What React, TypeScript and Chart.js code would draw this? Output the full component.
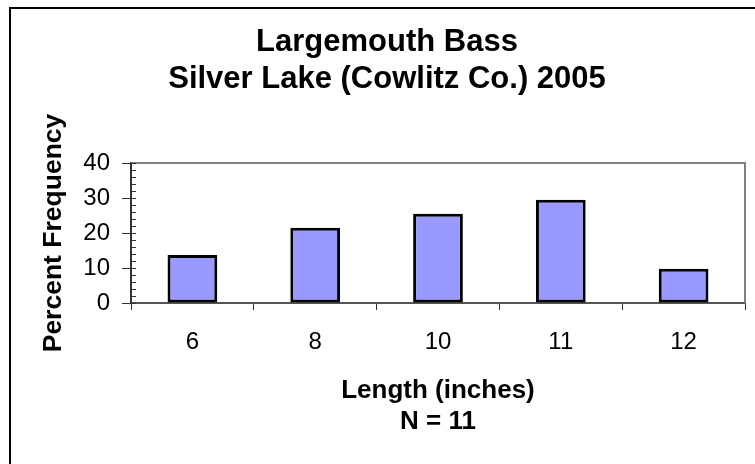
import React, { useEffect, useRef } from 'react';
import { Chart, registerables } from 'chart.js';

Chart.register(...registerables);

// ---- data ----
const categories = ['6', '8', '10', '11', '12'];
const percentFrequency = [13.7, 21.5, 25.5, 29.5, 9.8];
const yTickValues = [0, 10, 20, 30, 40];
const yMinorStep = 2;
const titleLines = ['Largemouth Bass', 'Silver Lake (Cowlitz Co.) 2005'];
const xTitleLines = ['Length (inches)', 'N = 11'];
const yTitleText = 'Percent Frequency';

const FONT = '"Liberation Sans", Arial, Helvetica, sans-serif';

const decorPlugin = {
  id: 'decor',
  beforeDraw(chart: any) {
    const ctx = chart.ctx;
    ctx.save();
    ctx.fillStyle = '#ffffff';
    ctx.fillRect(0, 0, chart.width, chart.height);
    ctx.strokeStyle = '#000000';
    ctx.lineWidth = 2;
    ctx.strokeRect(10, 8, chart.width + 50, chart.height + 50);
    ctx.restore();
  },
  afterDraw(chart: any) {
    const ctx = chart.ctx;
    const a = chart.chartArea;
    const y = chart.scales.y;
    ctx.save();
    // top and right plot border
    ctx.strokeStyle = '#808080';
    ctx.lineWidth = 2;
    ctx.beginPath();
    ctx.moveTo(a.left, a.top);
    ctx.lineTo(a.right, a.top);
    ctx.lineTo(a.right, a.bottom);
    ctx.stroke();
    // minor ticks on the y axis (inside)
    ctx.strokeStyle = '#333333';
    ctx.lineWidth = 1;
    ctx.beginPath();
    for (let v = y.min; v <= y.max + 1e-9; v += yMinorStep) {
      const py = Math.round(y.getPixelForValue(v)) + 0.5;
      ctx.moveTo(a.left, py);
      ctx.lineTo(a.left + 5, py);
    }
    ctx.stroke();
    ctx.restore();
  },
};

export default function App() {
  const ref = useRef<HTMLCanvasElement | null>(null);

  useEffect(() => {
    if (!ref.current) return;
    const chart = new Chart(ref.current, {
      type: 'bar',
      data: {
        labels: categories,
        datasets: [
          {
            data: percentFrequency,
            backgroundColor: '#9999FF',
            borderColor: '#000000',
            borderWidth: 3,
            borderSkipped: false,
            barPercentage: 0.405,
            categoryPercentage: 1,
          },
        ],
      },
      options: {
        responsive: false,
        animation: false,
        layout: { padding: { left: 29, right: 10, top: 0, bottom: 27 } },
        plugins: {
          legend: { display: false },
          tooltip: { enabled: false },
          title: {
            display: true,
            text: titleLines,
            color: '#000000',
            font: { family: FONT, size: 31, weight: 'bold', lineHeight: 1.2 },
            padding: { top: 24, bottom: 64.6 },
          },
        },
        scales: {
          x: {
            type: 'category',
            offset: true,
            grid: {
              display: true,
              drawOnChartArea: false,
              drawTicks: true,
              tickLength: 7,
              color: '#333333',
              lineWidth: 1,
              offset: true,
            },
            border: { display: true, color: '#555555', width: 2 },
            ticks: {
              color: '#000000',
              font: { family: FONT, size: 24 },
              padding: 18,
              maxRotation: 0,
            },
            title: {
              display: true,
              text: xTitleLines,
              color: '#000000',
              font: { family: FONT, size: 26, weight: 'bold', lineHeight: 1.19 },
              padding: { top: 0, bottom: 0 },
            },
            afterFit: (s: any) => {
              s.height = 134;
            },
          },
          y: {
            min: 0,
            max: 40,
            grid: {
              display: true,
              drawOnChartArea: false,
              drawTicks: true,
              tickLength: 9,
              color: '#333333',
              lineWidth: 1,
            },
            border: { display: true, color: '#333333', width: 2 },
            ticks: {
              color: '#000000',
              font: { family: FONT, size: 24 },
              padding: 12,
            },
            afterBuildTicks: (s: any) => {
              s.ticks = yTickValues.map((v) => ({ value: v }));
            },
            title: {
              display: true,
              text: yTitleText,
              color: '#000000',
              font: { family: FONT, size: 26.5, weight: 'bold', lineHeight: 1.2 },
              padding: { top: 9, bottom: 0 },
            },
            afterFit: (s: any) => {
              s.width = 102;
            },
          },
        },
      },
      plugins: [decorPlugin],
    } as any);
    return () => chart.destroy();
  }, []);

  return (
    <canvas
      ref={ref}
      width={755}
      height={464}
      style={{ position: 'absolute', left: 0, top: 0, width: 755, height: 464 }}
    />
  );
}
